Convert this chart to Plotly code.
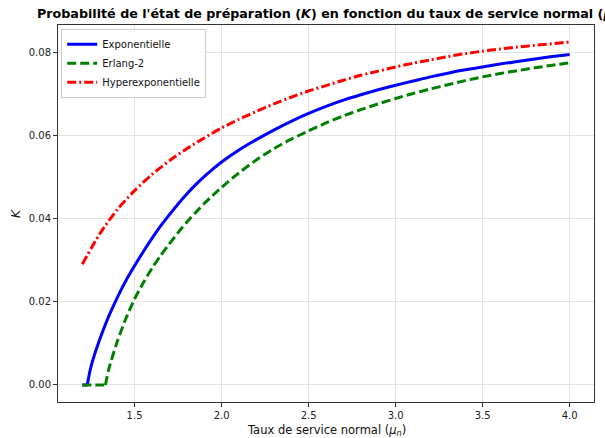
import plotly.graph_objects as go

# --- data ---
mu_expo = [1.20, 1.228, 1.25, 1.30, 1.35, 1.40, 1.45, 1.50, 1.55, 1.60, 1.65, 1.70, 1.75, 1.80,
           1.85, 1.90, 1.95, 2.00, 2.10, 2.20, 2.30, 2.40, 2.50, 2.60, 2.70, 2.80, 2.90,
           3.00, 3.10, 3.20, 3.30, 3.40, 3.50, 3.60, 3.70, 3.80, 3.90, 4.00]
k_expo = [0.0, 0.0, 0.0045, 0.0110, 0.0164, 0.0210, 0.0251, 0.0287, 0.0321, 0.0353, 0.0383, 0.0410,
          0.0436, 0.0460, 0.0482, 0.0502, 0.0520, 0.0537, 0.0566, 0.0591, 0.0614, 0.0635, 0.0654,
          0.0671, 0.0686, 0.0699, 0.0711, 0.0722, 0.0732, 0.0742, 0.0751, 0.0759, 0.0766, 0.0773,
          0.0779, 0.0785, 0.0791, 0.0796]

mu_erlang = [1.20, 1.333, 1.35, 1.40, 1.45, 1.50, 1.55, 1.60, 1.65, 1.70, 1.75, 1.80, 1.85,
             1.90, 1.95, 2.00, 2.10, 2.20, 2.30, 2.40, 2.50, 2.60, 2.70, 2.80, 2.90,
             3.00, 3.10, 3.20, 3.30, 3.40, 3.50, 3.60, 3.70, 3.80, 3.90, 4.00]
k_erlang = [0.0, 0.0, 0.0035, 0.0104, 0.0160, 0.0207, 0.0246, 0.0281, 0.0312, 0.0340, 0.0367,
            0.0392, 0.0415, 0.0437, 0.0457, 0.0476, 0.0511, 0.0542, 0.0569, 0.0592, 0.0612,
            0.0631, 0.0648, 0.0663, 0.0677, 0.0690, 0.0702, 0.0713, 0.0723, 0.0733, 0.0742,
            0.0750, 0.0757, 0.0764, 0.0770, 0.0776]

mu_hyper = [1.20, 1.30, 1.40, 1.50, 1.60, 1.70, 1.80, 1.90, 2.00, 2.10, 2.20, 2.30, 2.40,
            2.50, 2.60, 2.70, 2.80, 2.90, 3.00, 3.10, 3.20, 3.30, 3.40, 3.50, 3.60, 3.70,
            3.80, 3.90, 4.00]
k_hyper = [0.0291, 0.0364, 0.0422, 0.0468, 0.0507, 0.0540, 0.0569, 0.0595, 0.0619, 0.0640,
           0.0659, 0.0677, 0.0693, 0.0708, 0.0721, 0.0734, 0.0746, 0.0756, 0.0766, 0.0775,
           0.0783, 0.0791, 0.0798, 0.0804, 0.0809, 0.0814, 0.0818, 0.0822, 0.0826]

x_ticks = [1.5, 2.0, 2.5, 3.0, 3.5, 4.0]
y_ticks = [0.00, 0.02, 0.04, 0.06, 0.08]

FONT = "DejaVu Sans"

series = [
    ("Exponentielle", mu_expo, k_expo, "#0000ff", "solid", True),
    ("Erlang-2", mu_erlang, k_erlang, "#008000", "9px,4px", True),
    ("Hyperexponentielle", mu_hyper, k_hyper, "#ff0000", "9px,3px,2px,3px", False),
]

fig = go.Figure()
for name, xs, ys, color, dash, has_flat in series:
    if has_flat:
        # flat part at zero (linear), then the smooth rising curve
        fig.add_trace(go.Scatter(x=xs[:2], y=ys[:2], mode="lines", legendgroup=name,
                                 showlegend=False, hoverinfo="skip",
                                 line=dict(color=color, width=3, dash=dash)))
        cx, cy = xs[1:], ys[1:]
    else:
        cx, cy = xs, ys
    fig.add_trace(go.Scatter(x=cx, y=cy, mode="lines", name=name, legendgroup=name,
                             line=dict(color=color, width=3, dash=dash,
                                       shape="spline", smoothing=0.8)))

axis_common = dict(
    showline=True, linecolor="#333333", linewidth=1, mirror=True,
    showgrid=True, gridcolor="#e3e3e3", gridwidth=1,
    ticks="outside", ticklen=4, tickcolor="#333333",
    tickfont=dict(family=FONT, size=10, color="#222222"),
    zeroline=False,
)

PLOT_L, PLOT_R, PLOT_T, PLOT_B = 58, 594, 25, 402
pw, ph = PLOT_R - PLOT_L, PLOT_B - PLOT_T

fig.update_layout(
    width=605, height=438,
    margin=dict(l=PLOT_L, r=605 - PLOT_R, t=PLOT_T, b=438 - PLOT_B),
    paper_bgcolor="white", plot_bgcolor="white",
    font=dict(family=FONT, color="#111111"),
    title=dict(
        text="<b>Probabilité de l'état de préparation (<i>K</i>) en fonction du taux de service normal (<i>μ<sub>n</sub></i>)</b>",
        x=37 / 605, xanchor="left", xref="container",
        y=1 - 14 / 438, yanchor="middle", yref="container",
        font=dict(family=FONT, size=12.7, color="#000000"),
    ),
    xaxis=dict(range=[1.06, 4.14], tickvals=x_ticks, tickformat=".1f", **axis_common),
    yaxis=dict(range=[-0.0041, 0.0867], tickvals=y_ticks, tickformat=".2f", **axis_common),
    legend=dict(x=0.006, y=0.99, xanchor="left", yanchor="top",
                bgcolor="rgba(255,255,255,0.9)", bordercolor="#cccccc", borderwidth=1,
                font=dict(family=FONT, size=10), tracegroupgap=0, itemwidth=30),
    showlegend=True,
    annotations=[
        dict(text="Taux de service normal (<i>μ<sub>n</sub></i>)", xref="paper", yref="paper",
             x=(326 - PLOT_L) / pw, y=(PLOT_B - 430) / ph, xanchor="center", yanchor="middle",
             showarrow=False, font=dict(family=FONT, size=11.5, color="#111111")),
        dict(text="<i>K</i>", xref="paper", yref="paper", textangle=-90,
             x=(15 - PLOT_L) / pw, y=(PLOT_B - 213) / ph, xanchor="center", yanchor="middle",
             showarrow=False, font=dict(family=FONT, size=12.5, color="#111111")),
    ],
)

fig.write_html("out.html")
